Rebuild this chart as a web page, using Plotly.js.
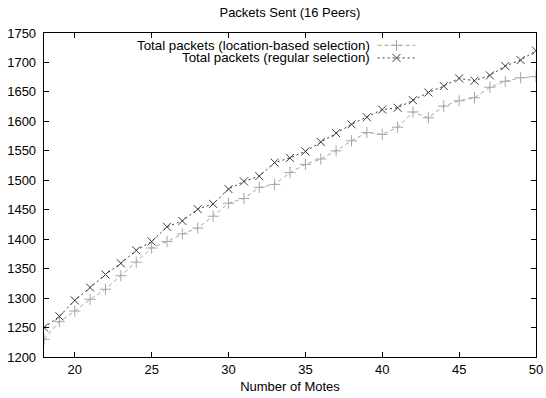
<!DOCTYPE html>
<html>
<head>
<meta charset="utf-8">
<script src="https://cdn.plot.ly/plotly-3.0.1.min.js"></script>
<style>html,body{margin:0;padding:0;background:#fff;}#chart{width:546px;height:398px;}</style>
</head>
<body>
<div id="chart"></div>
<script>
const motes = [18,19,20,21,22,23,24,25,26,27,28,29,30,31,32,33,34,35,36,37,38,39,40,41,42,43,44,45,46,47,48,49,50];
const locationBased = [1230,1260,1278,1298,1315,1338,1361,1385,1396,1409,1419,1439,1461,1469,1488,1493,1513,1527,1536,1550,1567,1581,1578,1590,1616,1606,1626,1635,1640,1658,1668,1674,1676];
const regular = [1250,1269,1296,1318,1340,1359,1381,1396,1421,1431,1451,1460,1485,1498,1507,1530,1538,1549,1565,1580,1595,1607,1620,1623,1636,1649,1660,1673,1669,1678,1694,1704,1720];
const seriesNames = ['Total packets (location-based selection)', 'Total packets (regular selection)'];
const xTicks = [20,25,30,35,40,45,50];
const yTicks = [1200,1250,1300,1350,1400,1450,1500,1550,1600,1650,1700,1750];

const colLoc = '#a6a6a6';
const colReg = '#3a3a3a';
const font = {family: 'Liberation Sans, Arial, sans-serif', size: 13, color: '#000'};
const legendFont = {family: font.family, size: 13.3, color: '#000'};

const locLine = {color: colLoc, width: 1, dash: '4px,3px'};
const regLine = {color: colReg, width: 1, dash: '2px,3px'};
const locMarker = {symbol: 'cross-thin-open', size: 8, color: colLoc, line: {color: colLoc, width: 1}};
const regMarker = {symbol: 'x-thin-open', size: 8, color: colReg, line: {color: colReg, width: 1}};

const traces = [
  {x: motes, y: locationBased, mode: 'lines+markers', name: seriesNames[0], line: locLine, marker: locMarker},
  {x: motes, y: regular, mode: 'lines+markers', name: seriesNames[1], line: regLine, marker: regMarker},
  // legend samples on an overlay axis in [0,1] units
  {x: [0.678, 0.755], y: [0.962, 0.962], xaxis: 'x2', yaxis: 'y2', mode: 'lines', hoverinfo: 'skip', line: locLine},
  {x: [0.7165], y: [0.962], xaxis: 'x2', yaxis: 'y2', mode: 'markers', hoverinfo: 'skip', marker: locMarker},
  {x: [0.678, 0.755], y: [0.923, 0.923], xaxis: 'x2', yaxis: 'y2', mode: 'lines', hoverinfo: 'skip', line: regLine},
  {x: [0.7165], y: [0.923], xaxis: 'x2', yaxis: 'y2', mode: 'markers', hoverinfo: 'skip', marker: regMarker}
];

const layout = {
  width: 546, height: 398,
  margin: {l: 44, r: 10, t: 33, b: 41},
  paper_bgcolor: '#fff', plot_bgcolor: '#fff',
  showlegend: false,
  font: font,
  title: {text: 'Packets Sent (16 Peers)', font: {family: font.family, size: 13, color: '#000'},
          x: 0.531, xanchor: 'center', y: 0.968, yanchor: 'middle'},
  xaxis: {range: [18, 50], tickvals: xTicks, ticks: 'inside', ticklen: 5, tickwidth: 1, tickcolor: '#000',
          showline: true, linecolor: '#000', linewidth: 1.3, mirror: 'allticks', showgrid: false, zeroline: false,
          tickfont: font, title: {text: 'Number of Motes', font: font, standoff: 6}},
  yaxis: {range: [1200, 1750], tickvals: yTicks, ticks: 'inside', ticklen: 5, tickwidth: 1, tickcolor: '#000',
          showline: true, linecolor: '#000', linewidth: 1.3, mirror: 'allticks', showgrid: false, zeroline: false,
          tickfont: font, ticklabelstandoff: 4},
  xaxis2: {overlaying: 'x', range: [0, 1], visible: false, fixedrange: true},
  yaxis2: {overlaying: 'y', range: [0, 1], visible: false, fixedrange: true},
  annotations: [
    {xref: 'x2', yref: 'y2', x: 0.667, y: 0.962, xanchor: 'right', yanchor: 'middle', showarrow: false,
     text: seriesNames[0], font: legendFont},
    {xref: 'x2', yref: 'y2', x: 0.667, y: 0.923, xanchor: 'right', yanchor: 'middle', showarrow: false,
     text: seriesNames[1], font: legendFont}
  ]
};

Plotly.newPlot('chart', traces, layout, {displayModeBar: false, staticPlot: true});
</script>
</body>
</html>
